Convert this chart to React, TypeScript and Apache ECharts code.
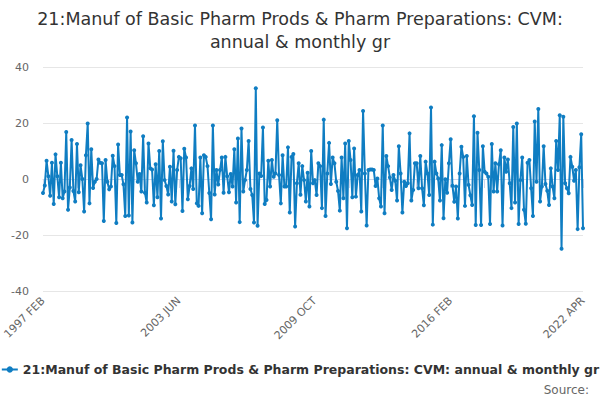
import React, { useEffect, useRef } from "react";
import * as echarts from "echarts";

const TITLE = "21:Manuf of Basic Pharm Prods & Pharm Preparations: CVM:\nannual & monthly gr";
const SERIES_NAME = "21:Manuf of Basic Pharm Prods & Pharm Preparations: CVM: annual & monthly gr";
const MONTHS = ["JAN", "FEB", "MAR", "APR", "MAY", "JUN", "JUL", "AUG", "SEP", "OCT", "NOV", "DEC"];
const START_YEAR = 1997;
const START_MONTH = 1; // FEB
const COUNT = 303; // 1997 FEB .. 2022 APR

const values1: number[] = [
  -5, -2.3, 6.5, 1, -6, 5.8, -8.9, 8.8, 1, -6.5, 5.8, -6.9, -4.5, 16.8, -11, -3, 13.9, -4.3, -8, 12.5,
  -4.7, 4.9, 0, -11.6, 8.5, 19.8, -8.7, 10.6, -3.2, -1, 0, 7, 5.8, 5.6, -15, 6.8, -1, -3.7, -2.7, 8.3,
  4.6, -15.7, 12.3, 1.4, 1.4, -1.9, -13.2, 22, -13, 17, -15.5, 10.3, 5.6, -1, 1.8, -4.5, 15.3, -4.9, -8.4, 12.7,
  3.8, 3.4, -9.4, 5.3, -6.5, 10, -14.1, 13.5, -0.4, -2.5, -5.5, 4.4, -8, 10.1, -9, 3.2, 7.9, 7.4, -11.4, 10.8,
  7.7, -7.2, -2.5, 3.8, -3.6, 19.1, -8.7, -9.6, 7.7, -12.2, 8.5, 7.9, 4.6, -5, -14.4, 19.1, -5.5,
];
const values2: number[] = [
  3.2, -2, 3.2, 7.7, -4.9, 7.9, 1, -4.7, 1.8, -2.7, 10.6, -8.4, 14.5, -15.4, 18, -4.5, -0.4, 3.2, 13.6, -3.6,
  -5.7, -15.5, 32.4, -16.7, 2, 1.1, 18.4, -8.9, -7.5, 6.5, -2.7, 6.8, 0.8, 2, 21, 1.4, -8.7, 8.5, -2.7, -2.7,
  11.3, -12, 7.9, 8.9, -17, -1.5, 5.6, -5.6, 4.6, -0.4, -8, 2.2, -9.8,
];
const values3: number[] = [
  10, -1.5, -0.4, -5.7, 5.6, 4.6, -10.4, 21.2, -13.2, 2, 12.9, -1.8, 7.7, 5.6, -1, -4.3, -11.3, 7.7, -6.9, 12.7,
  -17.6, 13.6, 6.8, -6.5, 10.9, -6.3, 1.4, 3.2, -11.6, 24.3, 2, -16.6, 3.2, 3.4, 3.4, 3.2, -2.5, 0.2, -6.9, -9.8,
  19.1, -12.2, 8.2, 4.6, 0.5, -3.9, 1.4, -0.6, -7.7, 11.7,
];
const values4: number[] = [
  2, -12, -1, -2.5, -1.5, 16.3, -7.7, -3.9, 5.6, 5.6, -3.3, 8.2, -3.3, -9.4, 6.2, 2, -5.7, 25.5, -16.3, 6.2,
  2, 0.2, -7.7, 12.1, -14, -0.1, -4.9, 5.6, 14.2, -2.4, -8.1, -2.7, -14.1, 2, 11.5, 7.9, -9.6, 8.2, -2.1, -5.8,
  -9.3, 22.4, -16.4, 16.5, 3.2, -16.4, 11.7, 2.6, 2, 0.8, -16.1,
];
const values5: number[] = [
  12.5, -4.5, 5.6, -4.5, 5.3, 10.3, -16.6, 7.7, 2.6, 7, -1.5, -10.4, 18.6, -8.4, 19.8, -16.1, -0.4, 7.7, -11, -16,
  5.8, 6.8, -3.3, -13.2, 20.5, -1, 25, -8, -2.7, 11.7, -1.8, -4.2, -9.3, 3.8, -2.7, -6.9, 13.6, 3.2, 22.8, -24.9,
  22.2, -1.5, -3.3, -5.1, 7.9, 4.4, -0.6, 3.2, -17.9, 4.2, 16, -17.6,
];
const VALUES: number[] = [...values1, ...values2, ...values3, ...values4, ...values5];

const CATEGORIES: string[] = [];
for (let i = 0; i < COUNT; i++) {
  const m = START_MONTH + i;
  CATEGORIES.push(`${START_YEAR + Math.floor(m / 12)} ${MONTHS[m % 12]}`);
}

const Y_MIN = -40;
const Y_MAX = 40;
const Y_STEP = 20;

export default function App() {
  const ref = useRef<HTMLDivElement>(null);
  useEffect(() => {
    document.body.style.margin = "0";
    if (!ref.current) return;
    const chart = echarts.init(ref.current, null, { renderer: "svg" });
    const last = CATEGORIES.length - 1;
    chart.setOption({
      animation: false,
      textStyle: { fontFamily: "DejaVu Sans" },
      title: {
        text: TITLE,
        left: "center",
        top: 2,
        textStyle: { fontSize: 17.5, fontWeight: "normal", color: "#333333", lineHeight: 23, fontFamily: "DejaVu Sans" },
      },
      grid: { left: 43, right: 17, top: 67, bottom: 109, containLabel: false },
      xAxis: {
        type: "category",
        data: CATEGORIES,
        boundaryGap: false,
        axisLine: { lineStyle: { color: "#ccd6eb" } },
        axisTick: {
          length: 9,
          lineStyle: { color: "#ccd6eb" },
          interval: (i: number) => i % 19 === 0 || i === last,
        },
        axisLabel: {
          rotate: 45,
          color: "#666666",
          fontSize: 11,
          margin: 8,
          interval: (i: number) => i % 76 === 0 || i === last,
          showMaxLabel: true,
        },
        splitLine: { show: false },
      },
      yAxis: {
        type: "value",
        min: Y_MIN,
        max: Y_MAX,
        interval: Y_STEP,
        axisLine: { show: false },
        axisTick: { show: false },
        axisLabel: { color: "#666666", fontSize: 11, margin: 14 },
        splitLine: { lineStyle: { color: "#e6e6e6" } },
      },
      legend: {
        bottom: 19,
        left: "center",
        itemWidth: 16,
        itemHeight: 8,
        itemGap: 5,
        textStyle: { fontSize: 12.5, fontWeight: "bold", color: "#333333", fontFamily: "DejaVu Sans" },
        data: [SERIES_NAME],
      },
      graphic: [
        {
          type: "text",
          right: 11,
          bottom: 4,
          style: { text: "Source:", fontSize: 12, fill: "#666666", fontFamily: "DejaVu Sans" },
        },
      ],
      series: [
        {
          name: SERIES_NAME,
          type: "line",
          data: VALUES,
          symbol: "circle",
          symbolSize: 4,
          showSymbol: true,
          showAllSymbol: true,
          lineStyle: { color: "#0f7dc2", width: 2 },
          itemStyle: { color: "#0f7dc2" },
        },
      ],
    });
    return () => chart.dispose();
  }, []);
  return <div ref={ref} style={{ width: 600, height: 400 }} />;
}
